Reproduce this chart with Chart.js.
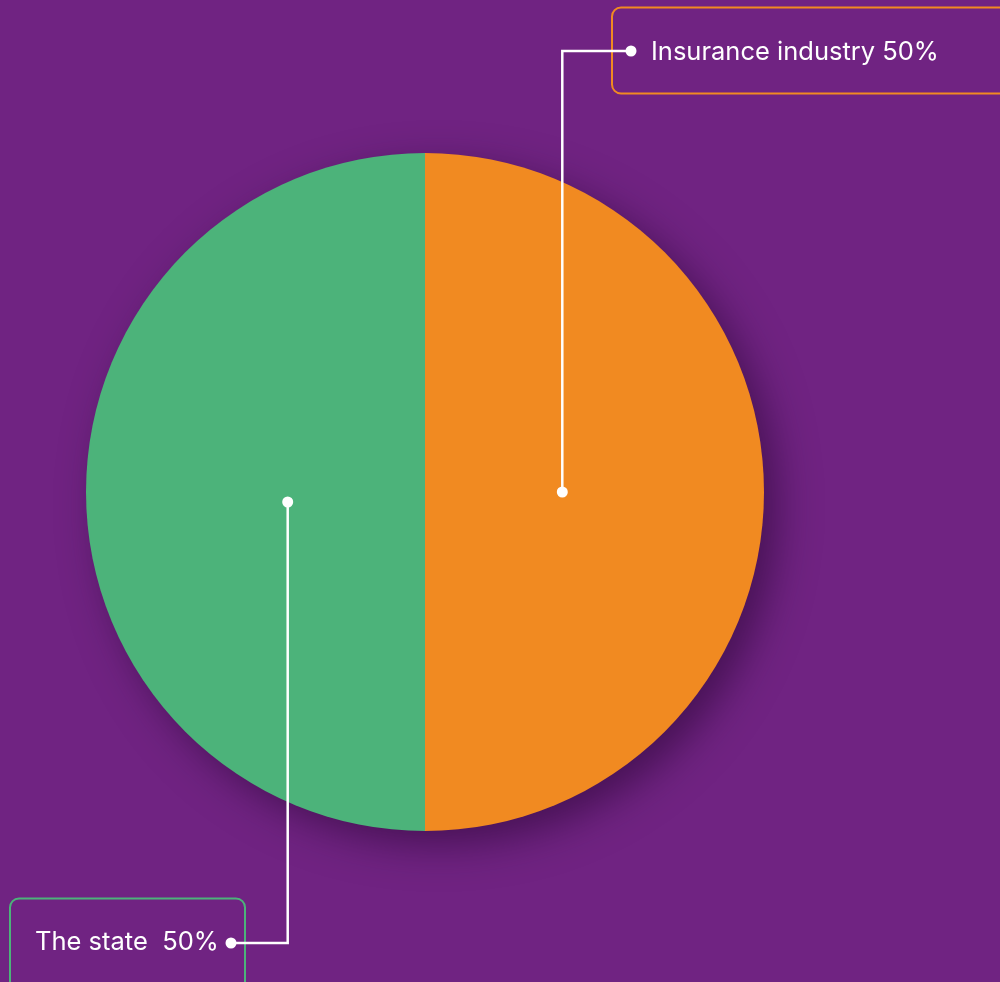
<!DOCTYPE html>
<html>
<head>
<meta charset="utf-8">
<script src="https://cdn.jsdelivr.net/npm/chart.js@4/dist/chart.umd.min.js"></script>
<style>
    html, body { margin: 0; padding: 0; background: #702382; }
    #wrap { width: 1000px; height: 982px; position: relative; }
</style>
</head>
<body>
<div id="wrap"><canvas id="pie"></canvas></div>
<script>
/* Funding split pie with callout labels */

const labels = ['Insurance industry', 'The state'];
const shares = [50, 50];
const calloutText = ['Insurance industry 50%', 'The state  50%'];

const COLORS = {
    bg: '#702382',
    orange: '#F18A21',
    green: '#4CB37A',
    white: '#ffffff',
};

const FONT = "'Inter', 'Open Sans', sans-serif";

// soft shadow under the whole pie, falling to the lower right
const pieShadow = {
    id: 'pieShadow',
    beforeDatasetsDraw(chart) {
        const arc = chart.getDatasetMeta(0).data[0];
        if (!arc) return;
        const ctx = chart.ctx;
        ctx.save();
        ctx.shadowColor = 'rgba(30, 0, 40, 0.5)';
        ctx.shadowBlur = 40;
        ctx.shadowOffsetX = 14;
        ctx.shadowOffsetY = 14;
        ctx.fillStyle = COLORS.bg;
        ctx.beginPath();
        ctx.arc(arc.x, arc.y, arc.outerRadius - 1, 0, Math.PI * 2);
        ctx.fill();
        ctx.restore();
    },
};

function roundRect(ctx, x, y, w, h, r) {
    ctx.beginPath();
    ctx.moveTo(x + r, y);
    ctx.lineTo(x + w - r, y);
    ctx.arcTo(x + w, y, x + w, y + r, r);
    ctx.lineTo(x + w, y + h - r);
    ctx.arcTo(x + w, y + h, x + w - r, y + h, r);
    ctx.lineTo(x + r, y + h);
    ctx.arcTo(x, y + h, x, y + h - r, r);
    ctx.lineTo(x, y + r);
    ctx.arcTo(x, y, x + r, y, r);
    ctx.closePath();
}

function dot(ctx, x, y) {
    ctx.beginPath();
    ctx.arc(x, y, 5.5, 0, Math.PI * 2);
    ctx.fill();
}

// leader lines and boxed labels
const callouts = {
    id: 'callouts',
    afterDraw(chart) {
        const ctx = chart.ctx;
        const arcs = chart.getDatasetMeta(0).data;
        ctx.save();
        ctx.font = '400 25.5px ' + FONT;
        ctx.textBaseline = 'middle';

        // Insurance industry (right half)
        const a0 = arcs[0];
        const m0 = (a0.startAngle + a0.endAngle) / 2;
        const x0 = a0.x + Math.cos(m0) * a0.outerRadius * 0.405;
        const y0 = a0.y + Math.sin(m0) * a0.outerRadius * 0.405;
        const ty0 = 51;
        ctx.strokeStyle = COLORS.orange;
        ctx.lineWidth = 2;
        roundRect(ctx, 612, 7.5, 420, 86, 9);
        ctx.stroke();
        ctx.strokeStyle = COLORS.white;
        ctx.fillStyle = COLORS.white;
        ctx.lineWidth = 2.5;
        ctx.beginPath();
        ctx.moveTo(x0, y0);
        ctx.lineTo(x0, ty0);
        ctx.lineTo(631, ty0);
        ctx.stroke();
        dot(ctx, x0, y0);
        dot(ctx, 631, ty0);
        ctx.textAlign = 'left';
        ctx.fillText(calloutText[0], 651, ty0 + 1);

        // The state (left half)
        const a1 = arcs[1];
        const m1 = (a1.startAngle + a1.endAngle) / 2;
        const x1 = a1.x + Math.cos(m1) * a1.outerRadius * 0.405;
        const y1 = a1.y + 10;
        const ty1 = 943;
        ctx.strokeStyle = COLORS.green;
        ctx.lineWidth = 2;
        roundRect(ctx, 10, 898.5, 235, 120, 9);
        ctx.stroke();
        ctx.strokeStyle = COLORS.white;
        ctx.lineWidth = 2.5;
        ctx.beginPath();
        ctx.moveTo(x1, y1);
        ctx.lineTo(x1, ty1);
        ctx.lineTo(231, ty1);
        ctx.stroke();
        dot(ctx, x1, y1);
        dot(ctx, 231, ty1);
        ctx.fillText(calloutText[1], 35, ty1 - 1);

        ctx.restore();
    },
};

new Chart(document.getElementById('pie'), {
    type: 'pie',
    data: {
        labels: labels,
        datasets: [{
            data: shares,
            backgroundColor: [COLORS.orange, COLORS.green],
            borderWidth: 0,
            hoverOffset: 0,
        }],
    },
    options: {
        responsive: true,
        maintainAspectRatio: false,
        animation: false,
        layout: {
            padding: { left: 86, right: 236, top: 153, bottom: 151 },
        },
        plugins: {
            legend: { display: false },
            tooltip: { enabled: false },
        },
    },
    plugins: [pieShadow, callouts],
});
</script>
</body>
</html>
